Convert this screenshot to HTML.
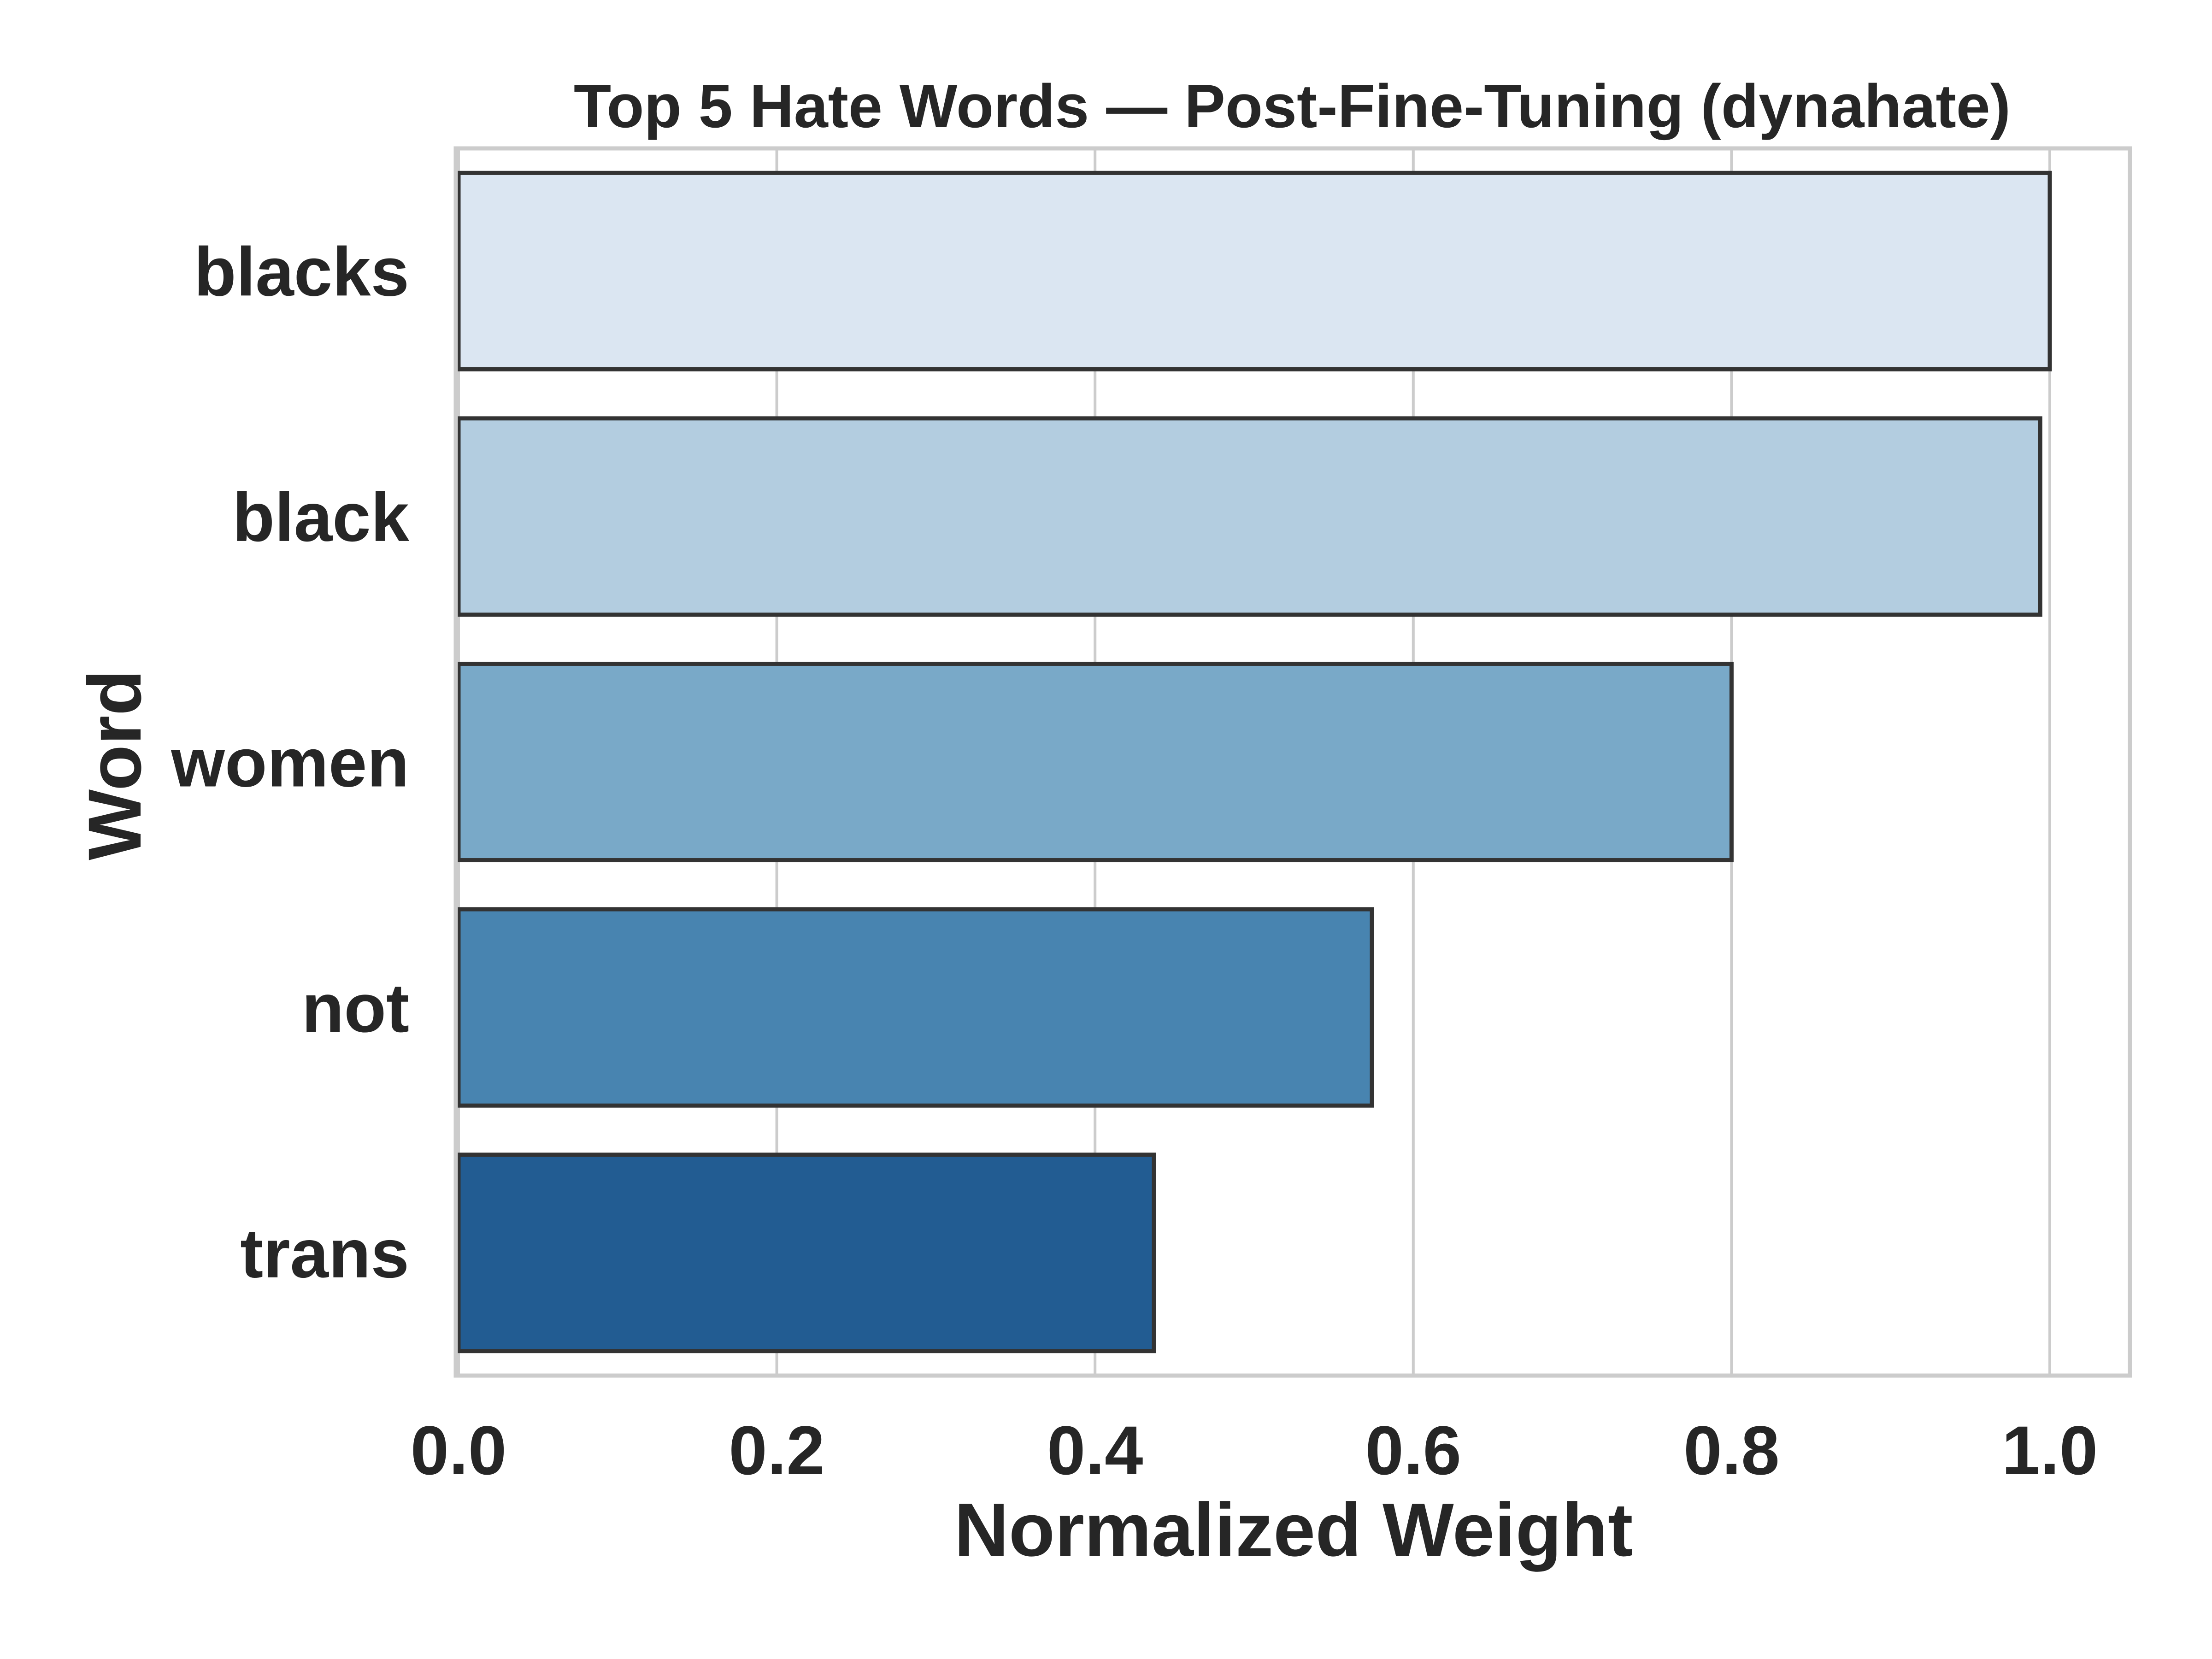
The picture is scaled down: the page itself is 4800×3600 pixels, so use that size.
<!DOCTYPE html>
<html><head><meta charset="utf-8"><style>html,body{margin:0;padding:0;background:#fff}svg{display:block}text{font-family:"Liberation Sans",Arial,sans-serif;font-weight:bold;fill:#262626}</style></head>
<body>
<svg id="chart" width="4800" height="3600" viewBox="0 0 4800 3600" xmlns="http://www.w3.org/2000/svg">
<text x="2804" y="276" font-size="133" text-anchor="middle">Top 5 Hate Words — Post-Fine-Tuning (dynahate)</text>
<g id="grid"></g>
<g id="bars"></g>
<rect x="989" y="322" width="3633" height="2663" fill="none" stroke="#cccccc" stroke-width="9"/>
<g id="xticks"></g>
<g id="yticks"></g>
<text x="2807" y="3376" font-size="164" text-anchor="middle">Normalized Weight</text>
<text x="0" y="0" font-size="163" text-anchor="middle" transform="translate(305,1660) rotate(-90)">Word</text>
</svg>
<script>
const categories = ["blacks","black","women","not","trans"];
const values = [1.0, 0.994, 0.800, 0.574, 0.437];
const colors = ["#dbe6f2","#b3cde0","#79a9c8","#4884b0","#225c92"];
const xTicks = [0.0,0.2,0.4,0.6,0.8,1.0];
const xTickLabels = ["0.0","0.2","0.4","0.6","0.8","1.0"];
const NS="http://www.w3.org/2000/svg";
const X0=995, X1=4448;
function xs(v){return X0+(X1-X0)*v;}
const bandTop=322, band=(2985-322)/categories.length;
function yc(i){return bandTop+band*(i+0.5);}
function mk(tag,attrs,parent){const e=document.createElementNS(NS,tag);for(const k in attrs)e.setAttribute(k,attrs[k]);parent.appendChild(e);return e;}
const grid=document.getElementById('grid'),bars=document.getElementById('bars'),xt=document.getElementById('xticks'),yt=document.getElementById('yticks');
xTicks.forEach((t,i)=>{
  const l=mk('line',{x1:xs(t),x2:xs(t),y1:322,y2:2985,stroke:'#cccccc','stroke-width':6},grid);
  
  
  const tx=mk('text',{x:xs(t),y:3199,'font-size':150,'text-anchor':'middle'},xt);
  tx.textContent=xTickLabels[i];
  
  
});
categories.forEach((c,i)=>{
  const h=band*0.8;
  const r=mk('rect',{x:xs(0),y:yc(i)-h/2,width:xs(values[i])-xs(0),height:h,fill:colors[i],stroke:'#333333','stroke-width':9},bars);
  
  
  const tx=mk('text',{x:888,y:yc(i)+53,'font-size':150,'text-anchor':'end'},yt);
  tx.textContent=c;
  
  
});
</script>
</body></html>
